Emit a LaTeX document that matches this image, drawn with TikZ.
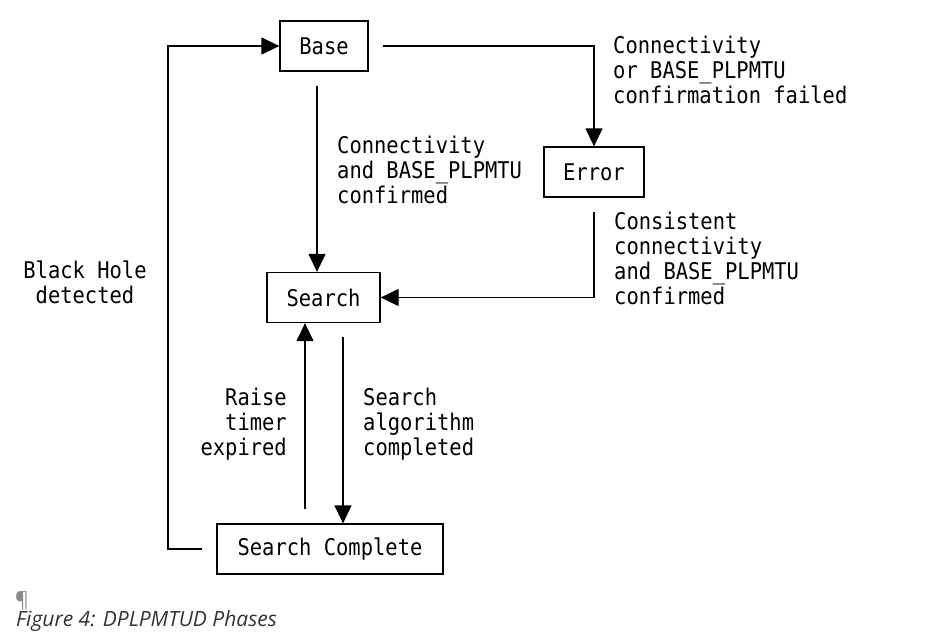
\documentclass[tikz,border=0pt]{standalone}
\usepackage{fontspec}
\usetikzlibrary{arrows.meta}
\newfontfamily\diagfont[FakeStretch=0.89]{DejaVu Sans Mono}
\newfontfamily\capfont{Open Sans}

\begin{document}
\begin{tikzpicture}[x=1pt, y=-1pt,
    phase/.style={draw, line width=1.3pt, minimum height=50pt, inner sep=0pt,
      font=\diagfont\fontsize{23}{25}\selectfont},
    cond/.style={inner sep=0pt, font=\diagfont\fontsize{23}{25}\selectfont},
    flow/.style={line width=1.3pt, -{Triangle[length=18pt,width=17pt]}, shorten <=14pt}]
  \useasboundingbox (0,0) rectangle (950,632);
  % phases
  \node[phase, minimum width=88pt] (base) at (324,46) {Base};
  \node[phase, minimum width=100pt] (error) at (594,172) {Error};
  \node[phase, minimum width=113pt] (search) at (323.5,297.5) {Search};
  \node[phase, minimum width=226pt] (sc) at (330,549) {Search Complete};
  \coordinate (rail) at (168,46);
  % transitions
  \draw[flow] (base.east) -| (error.north);
  \draw[flow] ([xshift=-7pt]base.south) -- ([xshift=-7pt]base.south |- search.north);
  \draw[flow] (error.south) |- (search.east);
  \draw[flow] ([xshift=19.5pt]search.south) -- ([xshift=19.5pt]search.south |- sc.north);
  \draw[flow] ([xshift=-25pt]sc.north) -- ([xshift=-25pt]sc.north |- search.south);
  \draw[flow] (sc.west) -| (rail) -- (base.west);
  % conditions
  \node[cond, anchor=north west, align=left] (failed) at (613,35.5)
    {Connectivity\\or BASE\_PLPMTU\\confirmation failed};
  \node[cond, anchor=north west, align=left] (confirmed) at (337,135.5)
    {Connectivity\\and BASE\_PLPMTU\\confirmed};
  \node[cond, anchor=north west, align=left] (consistent) at (614,211.5)
    {Consistent\\connectivity\\and BASE\_PLPMTU\\confirmed};
  \node[cond, anchor=north, align=center] (blackhole) at (85,260.5)
    {Black Hole\\detected};
  \node[cond, anchor=north east, align=right] (raise) at (287,387.5)
    {Raise\\timer\\expired};
  \node[cond, anchor=north west, align=left] (done) at (363,387.5)
    {Search\\algorithm\\completed};
  % caption
  \node[anchor=base west, inner sep=0pt, text=black!45,
    font=\capfont\fontsize{21}{22}\selectfont] (pilcrow) at (15,607) {¶};
  \node[anchor=base west, inner sep=0pt, text=black!80,
    font=\capfont\itshape\fontsize{21}{22}\selectfont] (caption) at (16,626)
    {Figure 4: DPLPMTUD Phases};
\end{tikzpicture}
\end{document}
